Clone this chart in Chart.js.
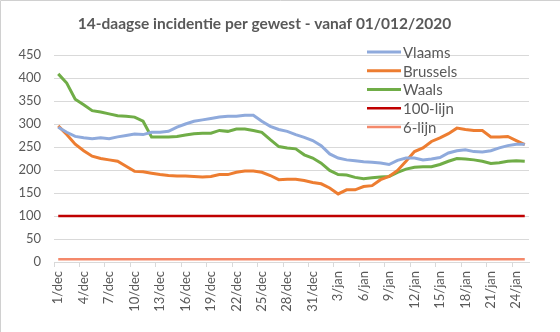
<!DOCTYPE html>
<html lang="nl">
<head>
<meta charset="UTF-8">
<title>14-daagse incidentie per gewest</title>
<script src="https://cdn.jsdelivr.net/npm/chart.js@4.4.1/dist/chart.umd.min.js"></script>
<style>
  html, body { margin: 0; padding: 0; background: #fff; }
  #wrap { width: 560px; height: 332px; position: relative; }
</style>
</head>
<body>
<div id="wrap"><canvas id="chart"></canvas></div>
<script>
// dates 1/dec .. 25/jan
const days = [];
for (let d = 1; d <= 31; d++) days.push(d + '/dec');
for (let d = 1; d <= 25; d++) days.push(d + '/jan');

const vlaams = [293, 282, 273, 270, 268, 270, 268, 272, 275, 278, 277, 282, 282, 284, 293, 300,
  306, 309, 312, 315, 317, 317, 319, 319, 306, 295, 288, 284, 277, 271, 264, 253,
  235, 226, 222, 220, 218, 217, 215, 212, 221, 226, 226, 222, 224, 227, 237, 242,
  244, 240, 239, 242, 248, 253, 256, 256];
const brussels = [296, 277, 256, 242, 230, 225, 222, 219, 208, 197, 196, 193, 190, 188, 187, 187,
  186, 185, 186, 190, 190, 195, 198, 198, 195, 188, 179, 180, 180, 177, 173, 170,
  161, 148, 157, 157, 164, 166, 179, 186, 199, 219, 240, 248, 262, 270, 279, 291,
  288, 286, 286, 272, 272, 273, 264, 255];
const waals = [409, 389, 354, 342, 329, 326, 322, 318, 317, 315, 306, 272, 272, 272, 273, 276,
  279, 280, 280, 286, 284, 289, 289, 286, 282, 266, 251, 248, 246, 233, 226, 215,
  199, 190, 189, 184, 181, 183, 185, 186, 195, 202, 206, 207, 207, 212, 219, 225,
  224, 222, 219, 214, 216, 219, 220, 219];
const lijn100 = days.map(() => 100);
const lijn6 = days.map(() => 6);

const textColor = '#595959';
const gridColor = '#d9d9d9';
const fontFamily = 'Lato, "Open Sans", sans-serif';

// legend drawn at fixed spot inside the plot, like the Excel original
const sideLegend = {
  id: 'sideLegend',
  afterDraw(chart) {
    const ctx = chart.ctx;
    ctx.save();
    ctx.font = '15px ' + fontFamily;
    ctx.textBaseline = 'middle';
    chart.data.datasets.forEach((ds, i) => {
      const y = 52 + i * 18.75;
      ctx.strokeStyle = ds.borderColor;
      ctx.lineWidth = ds.borderWidth;
      ctx.beginPath();
      ctx.moveTo(367, y);
      ctx.lineTo(401, y);
      ctx.stroke();
      ctx.fillStyle = textColor;
      ctx.fillText(ds.label, 403, y + 1);
    });
    // frame edges
    ctx.strokeStyle = '#d0d0d0';
    ctx.lineWidth = 1;
    ctx.beginPath();
    ctx.moveTo(0.5, 332);
    ctx.lineTo(0.5, 0.5);
    ctx.lineTo(560, 0.5);
    ctx.stroke();
    ctx.restore();
  }
};

const line = (label, data, color, width) => ({
  label, data, borderColor: color, backgroundColor: color,
  borderWidth: width, pointRadius: 0, tension: 0, fill: false
});

new Chart(document.getElementById('chart'), {
  type: 'line',
  data: {
    labels: days,
    datasets: [
      line('Vlaams', vlaams, '#8faadc', 3),
      line('Brussels', brussels, '#ed7d31', 3),
      line('Waals', waals, '#70ad47', 3),
      line('100-lijn', lijn100, '#c00000', 2.5),
      line('6-lijn', lijn6, '#f4896b', 2.5)
    ]
  },
  options: {
    responsive: true,
    maintainAspectRatio: false,
    animation: false,
    layout: { padding: { left: 0, right: 31, top: 0, bottom: 0 } },
    plugins: {
      legend: { display: false },
      tooltip: { enabled: false },
      title: {
        display: true,
        text: '14-daagse incidentie per gewest - vanaf 01/012/2020',
        color: textColor,
        font: { family: fontFamily, size: 15.5, weight: 'bold' },
        padding: { top: 15, bottom: 21.4 }
      }
    },
    scales: {
      x: {
        offset: true,
        afterFit: s => { s.height = 70; },
        border: { color: gridColor },
        grid: {
          offset: true,
          drawOnChartArea: false,
          tickLength: 5,
          color: c => (c.index % 3 === 0 ? gridColor : 'rgba(0,0,0,0)')
        },
        ticks: {
          autoSkip: false,
          minRotation: 90,
          maxRotation: 90,
          padding: 4,
          color: textColor,
          font: { family: fontFamily, size: 13 },
          callback: (v, i) => (i % 3 === 0 ? days[i] : '')
        }
      },
      y: {
        min: 0,
        max: 450,
        afterFit: s => { s.width = 54; },
        border: { display: false },
        grid: { color: gridColor, drawTicks: false },
        ticks: {
          stepSize: 50,
          padding: 13,
          color: textColor,
          font: { family: fontFamily, size: 13 }
        }
      }
    }
  },
  plugins: [sideLegend]
});
</script>
</body>
</html>
